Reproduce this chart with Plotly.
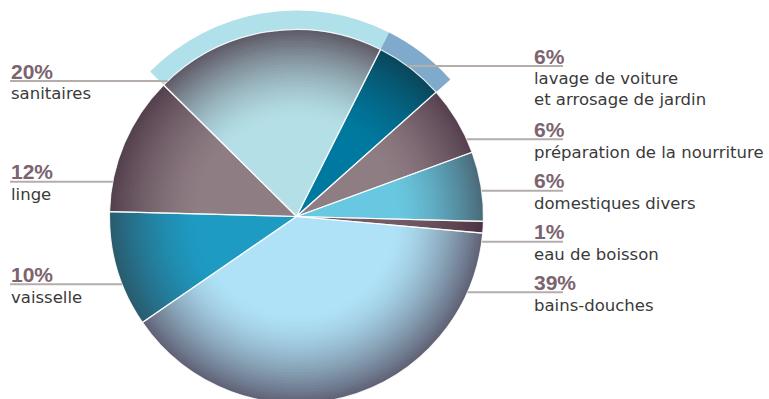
import numpy as np
import plotly.graph_objects as go

# Household water use, share of total consumption (%)
categories = [
    "sanitaires",
    "lavage de voiture et arrosage de jardin",
    "préparation de la nourriture",
    "domestiques divers",
    "eau de boisson",
    "bains-douches",
    "vaisselle",
    "linge",
]
shares = [20, 6, 6, 6, 1, 39, 10, 12]
label_lines = [
    ["sanitaires"],
    ["lavage de voiture", "et arrosage de jardin"],
    ["préparation de la nourriture"],
    ["domestiques divers"],
    ["eau de boisson"],
    ["bains-douches"],
    ["vaisselle"],
    ["linge"],
]
label_side = ["left", "right", "right", "right", "right", "right", "left", "left"]
leader_y = [81, 66, 139.3, 190.7, 241.7, 292.3, 284.3, 181.7]

# slice colours: lit centre and shaded rim
center_colors = ["#B4DFE6", "#0079A0", "#8F7D84", "#69C8E1", "#735A64", "#AFE2F7", "#1E9BC3", "#8F7D84"]
rim_colors = ["#5E5966", "#0A465A", "#56404F", "#4A6979", "#4A3342", "#5F6074", "#2A5A6C", "#53404D"]
band_colors = ["#B0E0EA", "#80AACB", "rgba(0,0,0,0)", "rgba(0,0,0,0)", "rgba(0,0,0,0)",
               "rgba(0,0,0,0)", "rgba(0,0,0,0)", "rgba(0,0,0,0)"]

W, H = 769, 430
CX, CY, R = 296.5, 216.5, 187
BAND_R = 206
ROTATION = -45.3

PCT_COLOR = "#7B6470"
TXT_COLOR = "#3A3A3A"
LINE_COLOR = "#B5ADAA"


def dom(r):
    return dict(x=[(CX - r) / W, (CX + r) / W], y=[(H - CY - r) / H, (H - CY + r) / H])


def rgb(h):
    h = h.lstrip("#")
    return np.array([int(h[i:i + 2], 16) for i in (0, 2, 4)], dtype=float)


def mix(c1, c2, t):
    c = rgb(c1) * (1 - t) + rgb(c2) * t
    return "rgb({:.0f},{:.0f},{:.0f})".format(*c)


def shade(frac):
    return float(np.clip((frac - 0.52) / 0.48, 0, 1) ** 1.5)


common = dict(values=shares, labels=categories, sort=False, direction="clockwise",
              rotation=ROTATION, textinfo="none", hoverinfo="skip", showlegend=False)

fig = go.Figure()

# highlight band behind the top slices
fig.add_trace(go.Pie(**common, domain=dom(BAND_R),
                     marker=dict(colors=band_colors, line=dict(width=0))))

# stacked discs, largest first, to build the radial shading
n = 34
radii = np.linspace(R, 0.5 * R, n)
step = radii[0] - radii[1]
for r in radii:
    t = shade((r - step / 2) / R) if r > radii[-1] else 0.0
    cols = [mix(c, e, t) for c, e in zip(center_colors, rim_colors)]
    fig.add_trace(go.Pie(**common, domain=dom(r),
                         marker=dict(colors=cols, line=dict(width=0))))

# slice separators
fig.add_trace(go.Pie(**common, domain=dom(R),
                     marker=dict(colors=["rgba(0,0,0,0)"] * len(shares),
                                 line=dict(color="rgba(255,255,255,0.85)", width=1.2))))


def px(x):
    return x / W


def py(y):
    return 1 - y / H


shapes = []
annotations = []
for cat, v, lines, side, ly in zip(categories, shares, label_lines, label_side, leader_y):
    edge = np.sqrt(R ** 2 - (ly - CY) ** 2)
    if side == "left":
        x0, x1, tx = 10, CX - edge, 10
    else:
        x0, x1, tx = CX + edge, 563, 533
    shapes.append(dict(type="line", xref="paper", yref="paper",
                       x0=px(x0), x1=px(x1), y0=py(ly), y1=py(ly),
                       line=dict(color=LINE_COLOR, width=2)))
    annotations.append(dict(xref="paper", yref="paper", x=px(tx), y=py(ly - 10),
                            text="<b>{}%</b>".format(v), showarrow=False,
                            xanchor="left", yanchor="middle", borderpad=0,
                            font=dict(family="Liberation Sans", size=21, color=PCT_COLOR)))
    for i, line in enumerate(lines):
        annotations.append(dict(xref="paper", yref="paper", x=px(tx), y=py(ly + 12.8 + 21 * i),
                                text=line, showarrow=False,
                                xanchor="left", yanchor="middle", borderpad=0,
                                font=dict(family="DejaVu Sans", size=16.5, color=TXT_COLOR)))

fig.update_layout(
    width=W, height=H,
    margin=dict(l=0, r=0, t=0, b=0),
    paper_bgcolor="white", plot_bgcolor="white",
    shapes=shapes, annotations=annotations,
)

fig.write_html(
    "out.html",
    post_script="document.body.style.margin='0';document.body.style.overflow='hidden';"
                "document.documentElement.style.overflow='hidden';",
)
